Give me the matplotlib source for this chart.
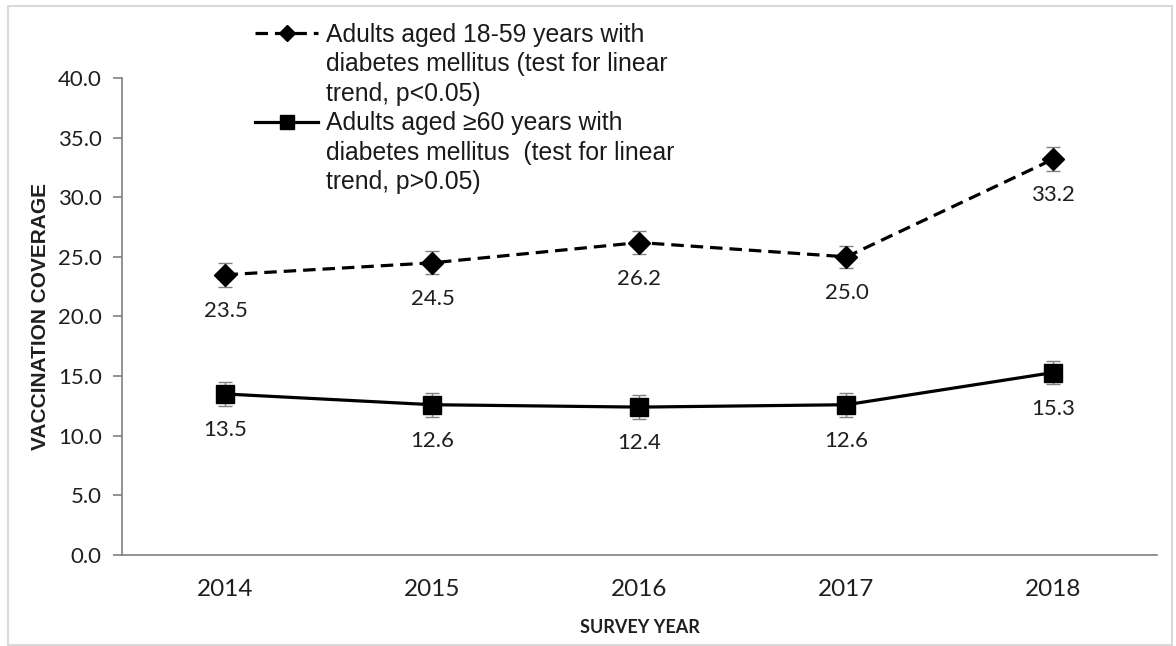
import numpy as np
import matplotlib
matplotlib.use("Agg")
import matplotlib.pyplot as plt
from matplotlib.lines import Line2D
from matplotlib.patches import Rectangle

plt.rcParams['lines.scale_dashes'] = False

years = ['2014', '2015', '2016', '2017', '2018']
young = [23.5, 24.5, 26.2, 25.0, 33.2]
young_err = [1.0, 0.95, 1.0, 0.95, 1.0]
old = [13.5, 12.6, 12.4, 12.6, 15.3]
old_err = [1.0, 1.0, 1.0, 1.0, 1.0]
young_label = ['Adults aged 18-59 years with',
               'diabetes mellitus (test for linear',
               'trend, p<0.05)']
old_label = ['Adults aged \u226560 years with',
             'diabetes mellitus  (test for linear',
             'trend, p>0.05)']

grey = '#808080'
tick_font = 'Lato'
text_font = 'Liberation Sans'

fig = plt.figure(figsize=(11.76, 6.46), dpi=100)
ax = fig.add_axes([0.1037, 0.1409, 0.8801, 0.7384])

x = np.arange(len(years))

ax.errorbar(x, young, yerr=young_err, fmt='none', ecolor=grey,
            elinewidth=1, capsize=5, capthick=1, zorder=2)
ax.errorbar(x, old, yerr=old_err, fmt='none', ecolor=grey,
            elinewidth=1, capsize=5, capthick=1, zorder=2)

l_young, = ax.plot(x, young, color='black', lw=2.3, dashes=(9, 5),
                   marker='D', markersize=11, zorder=3)
l_old, = ax.plot(x, old, color='black', lw=2.3, marker='s',
                 markersize=13, zorder=3)

for series in (young, old):
    for xi, v in zip(x, series):
        ax.annotate(f'{v:.1f}', (xi, v), xytext=(0, -26),
                    textcoords='offset points', ha='center', va='center',
                    fontsize=16, family=tick_font, color='#1f1f1f')

ax.set_xlim(-0.5, len(years) - 0.5)
ax.set_ylim(0, 40)
ax.set_xticks(x)
ax.set_xticklabels(years)
ax.set_yticks(np.arange(0, 41, 5))
ax.set_yticklabels([f'{t:.1f}' for t in np.arange(0, 41, 5)])

for side in ['top', 'right']:
    ax.spines[side].set_visible(False)
for side in ['left', 'bottom']:
    ax.spines[side].set_color(grey)
    ax.spines[side].set_linewidth(1.2)

ax.tick_params(axis='x', length=0, pad=17, labelsize=17.5, colors='#1f1f1f')
ax.tick_params(axis='y', length=6.5, width=1.2, color=grey, pad=8,
               labelsize=16, labelcolor='#1f1f1f')
for lab in ax.get_xticklabels() + ax.get_yticklabels():
    lab.set_family(tick_font)

ax.set_ylabel('VACCINATION COVERAGE', family=text_font, fontweight='bold',
              fontsize=15, color='#1f1f1f', labelpad=6)
ax.set_xlabel('SURVEY YEAR', family=tick_font, fontweight='bold',
              fontsize=13, color='#1f1f1f', labelpad=14)

# legend: one row per text line, handle only on the first line of each entry
blank = Line2D([], [], linestyle='none')
handles = [l_young, blank, blank, l_old, blank, blank]
labels = young_label + old_label
leg = fig.legend(handles, labels, loc='upper left',
                 bbox_to_anchor=(255 / 1176, 1 - 23 / 646),
                 frameon=False, borderpad=0, borderaxespad=0,
                 handlelength=2.55, handletextpad=0.33, labelspacing=0.22,
                 markerscale=0.75, prop={'family': text_font, 'size': 17.8})
for t in leg.get_texts():
    t.set_color('#1a1a1a')

# thin grey frame round the whole chart
fig.patches.append(Rectangle((8 / 1176, 1 - 645 / 646), 1164 / 1176, 639 / 646,
                             transform=fig.transFigure, fill=False,
                             edgecolor='#d9d9d9', lw=1.5))

fig.savefig('out.png', dpi=100)
